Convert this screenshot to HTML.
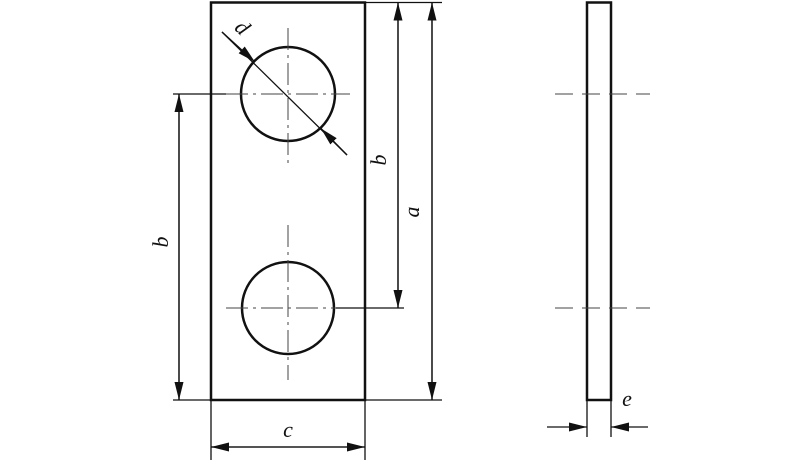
<!DOCTYPE html>
<html><head><meta charset="utf-8"><style>
html,body{margin:0;padding:0;background:#fff;}
svg{display:block;}
text{font-family:"Liberation Serif",serif;font-style:italic;font-size:22px;fill:#111;}
</style></head><body>
<svg width="800" height="461" viewBox="0 0 800 461" xmlns="http://www.w3.org/2000/svg">
<defs>
<marker id="ar" viewBox="0 0 18 10" refX="18" refY="5" markerWidth="18" markerHeight="10" markerUnits="userSpaceOnUse" orient="auto"><path d="M0,0.5 L18,5 L0,9.5 Z" fill="#111"/></marker>
</defs>
<g stroke="#111" fill="none">
<rect x="211" y="2.5" width="154" height="397.5" stroke-width="2.5"/>
<circle cx="288" cy="94" r="47" stroke-width="2.5"/>
<circle cx="288" cy="308" r="46" stroke-width="2.5"/>
<g stroke="#444" stroke-width="1" stroke-dasharray="22,5,3,5">
<line x1="226" y1="94" x2="350" y2="94"/>
<line x1="288" y1="28" x2="288" y2="165"/>
<line x1="226" y1="308" x2="336" y2="308"/>
<line x1="288" y1="225" x2="288" y2="380"/>
</g>
<g stroke-width="1.3">
<line x1="173" y1="94" x2="226" y2="94"/>
<line x1="173" y1="400" x2="211" y2="400"/>
<line x1="365" y1="2.5" x2="442" y2="2.5"/>
<line x1="336" y1="308" x2="404" y2="308"/>
<line x1="365" y1="400" x2="442" y2="400"/>
<line x1="211" y1="400" x2="211" y2="460"/>
<line x1="365" y1="400" x2="365" y2="460"/>
<line x1="179" y1="400" x2="179" y2="94" marker-end="url(#ar)"/>
<line x1="179" y1="94" x2="179" y2="400" marker-end="url(#ar)"/>
<line x1="398" y1="308" x2="398" y2="2.5" marker-end="url(#ar)"/>
<line x1="398" y1="2.5" x2="398" y2="308" marker-end="url(#ar)"/>
<line x1="432" y1="400" x2="432" y2="2.5" marker-end="url(#ar)"/>
<line x1="432" y1="2.5" x2="432" y2="400" marker-end="url(#ar)"/>
<line x1="365" y1="447" x2="211" y2="447" marker-end="url(#ar)"/>
<line x1="211" y1="447" x2="365" y2="447" marker-end="url(#ar)"/>
<line x1="222" y1="32" x2="347" y2="155"/>
<line x1="222" y1="32" x2="255" y2="62" marker-end="url(#ar)"/>
<line x1="347" y1="155" x2="321" y2="128.5" marker-end="url(#ar)"/>
</g>
<rect x="587" y="2.5" width="24" height="397.5" stroke-width="2.5"/>
<g stroke="#444" stroke-width="1" stroke-dasharray="18,9">
<line x1="555" y1="94" x2="650" y2="94"/>
<line x1="555" y1="308" x2="650" y2="308"/>
</g>
<g stroke-width="1.3">
<line x1="587" y1="400" x2="587" y2="437"/>
<line x1="611" y1="400" x2="611" y2="437"/>
<line x1="547" y1="427" x2="587" y2="427" marker-end="url(#ar)"/>
<line x1="648" y1="427" x2="611" y2="427" marker-end="url(#ar)"/>
</g>
</g>
<text x="163" y="242" text-anchor="middle" dominant-baseline="middle" transform="rotate(-90 163 242)">b</text>
<text x="381" y="160" text-anchor="middle" dominant-baseline="middle" transform="rotate(-90 381 160)">b</text>
<text x="414" y="212" text-anchor="middle" dominant-baseline="middle" transform="rotate(-90 414 212)">a</text>
<text x="241" y="29" text-anchor="middle" dominant-baseline="middle" transform="rotate(44 241 29)">d</text>
<text x="288" y="432" text-anchor="middle" dominant-baseline="middle">c</text>
<text x="627" y="401" text-anchor="middle" dominant-baseline="middle">e</text>
</svg>
</body></html>
